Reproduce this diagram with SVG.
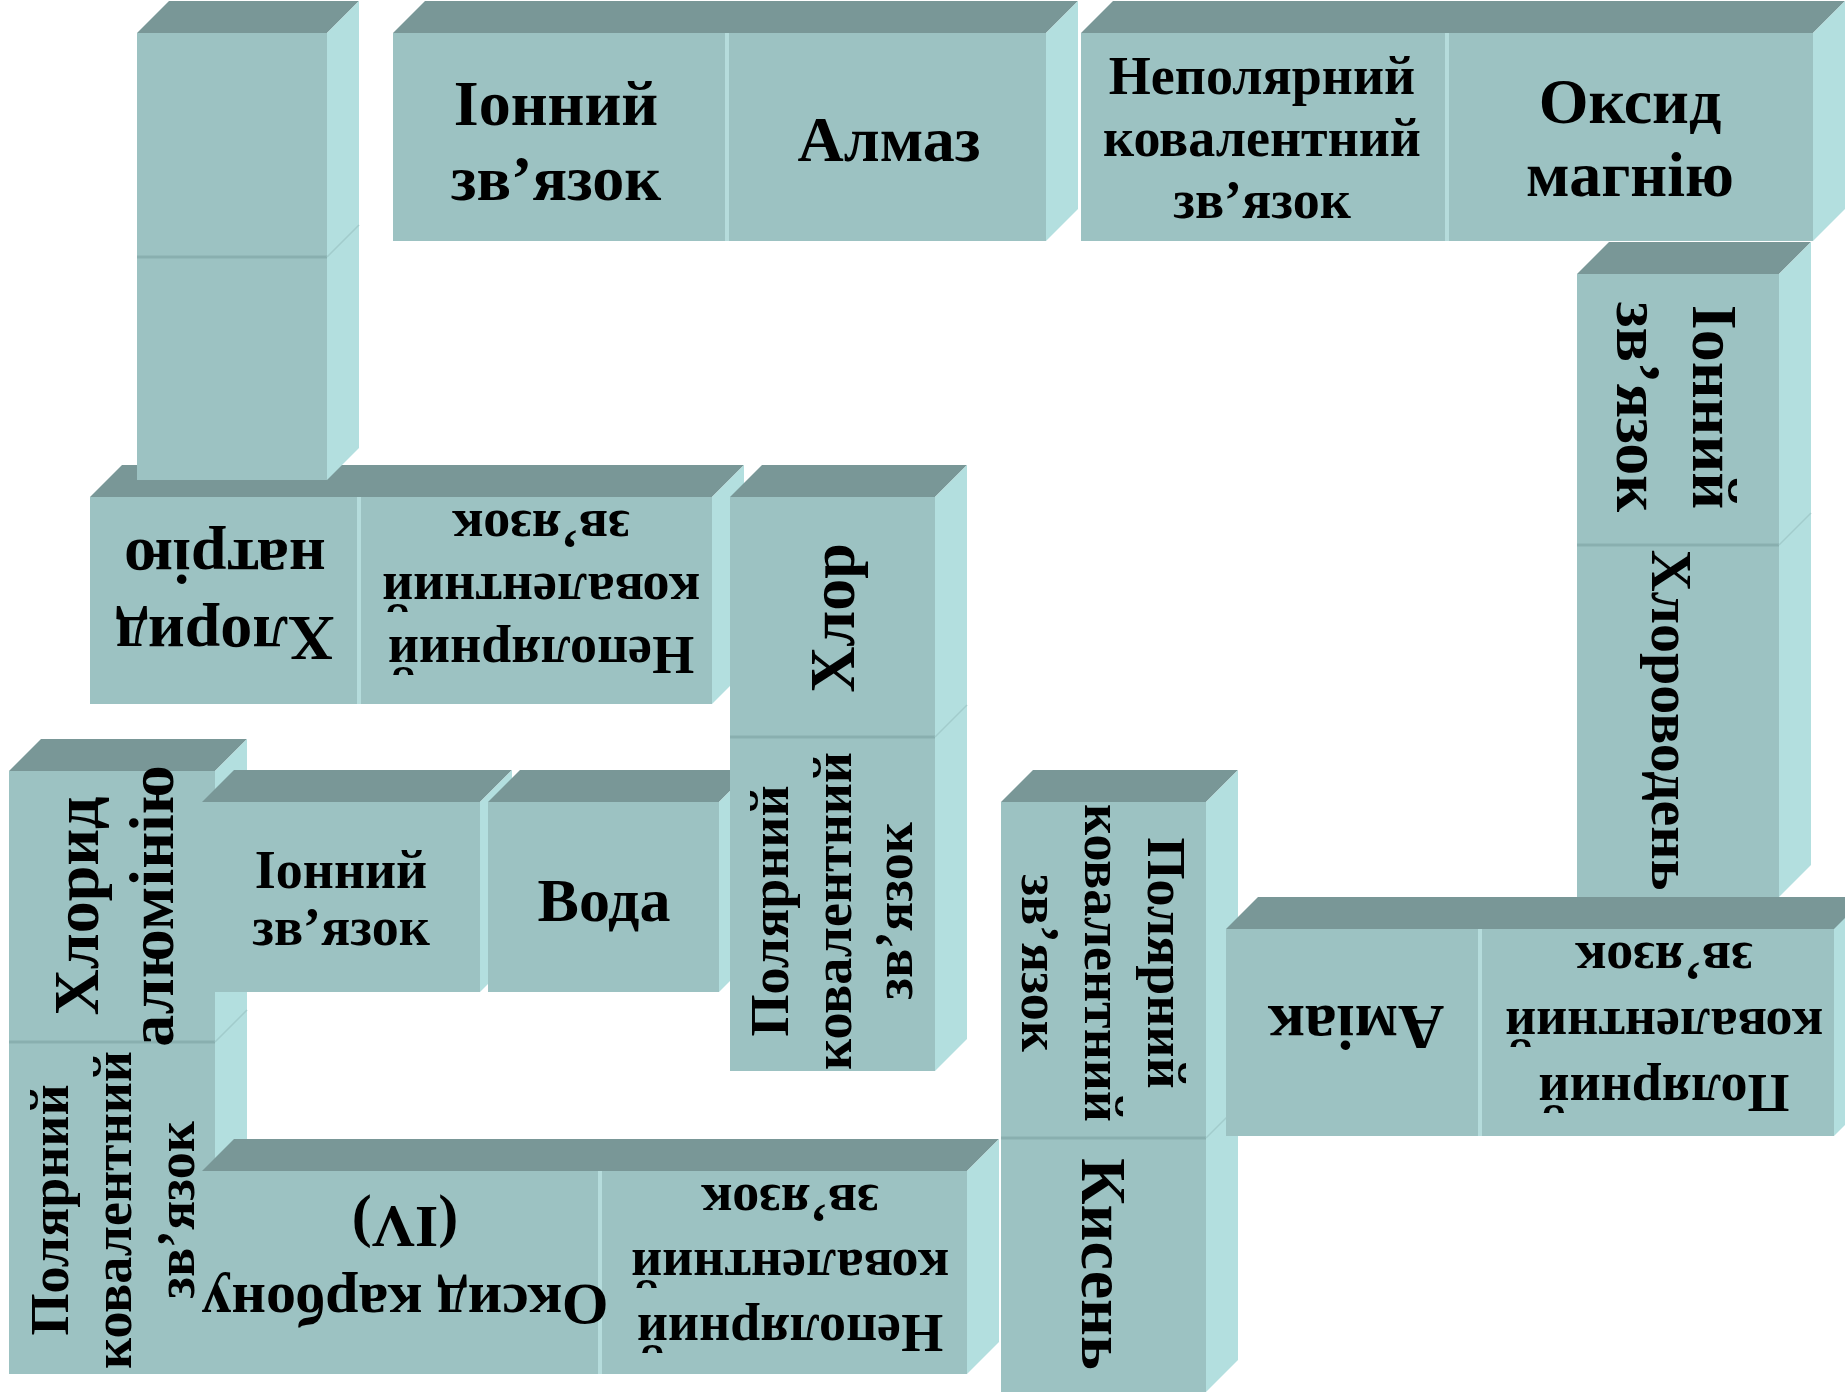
<svg xmlns="http://www.w3.org/2000/svg" width="1845" height="1397" viewBox="0 0 1845 1397">
<style>
.f{fill:#9CC2C2}
.tp{fill:#799797}
.sd{fill:#B3DFDF}
.dh{stroke:#89AFAF;stroke-width:3}
.dv{stroke:#B5DCDC;stroke-width:4}
.sm{stroke:#A2CCCC;stroke-width:1.5}
text{font-family:"Liberation Serif","Times New Roman",serif;font-weight:bold;fill:#000;text-anchor:middle}
.s54{font-size:54px}
.s58{font-size:58px}
.s60{font-size:60px}
.s62{font-size:62px}
.s64{font-size:64px}
</style>
<rect width="1845" height="1397" fill="#FFFFFF"/>
<g id="connectors"></g>

<g id="domino-A">
<polygon class="tp" points="393,33 425,1 1078,1 1046,33"/>
<polygon class="sd" points="1046,33 1078,1 1078,209 1046,241"/>
<rect class="f" x="393" y="33" width="653" height="208"/>
<line class="dv" x1="727" y1="33" x2="727" y2="241"/>
<text class="s64" x="556" y="125">Іонний</text>
<text class="s64" x="556" y="200">зв’язок</text>
<text class="s64" x="889" y="161">Алмаз</text>
</g>

<g id="domino-B">
<polygon class="tp" points="1081,33 1113,1 1845,1 1845,1 1813,33"/>
<polygon class="sd" points="1813,33 1845,1 1845,209 1813,241"/>
<rect class="f" x="1081" y="33" width="732" height="208"/>
<line class="dv" x1="1447" y1="33" x2="1447" y2="241"/>
<text class="s54" x="1262" y="94">Неполярний</text>
<text class="s54" x="1262" y="156">ковалентний</text>
<text class="s54" x="1262" y="218">зв’язок</text>
<text class="s64" x="1630" y="123">Оксид</text>
<text class="s64" x="1630" y="196">магнію</text>
</g>

<g id="domino-D">
<polygon class="tp" points="90,497 122,465 744,465 712,497"/>
<polygon class="sd" points="712,497 744,465 744,672 712,704"/>
<rect class="f" x="90" y="497" width="622" height="207"/>
<line class="dv" x1="359" y1="497" x2="359" y2="704"/>
<g transform="translate(225,597) rotate(180)">
<text class="s64" x="0" y="-20">Хлорид</text>
<text class="s64" x="0" y="57">натрію</text>
</g>
<g transform="translate(541,591) rotate(180)">
<text class="s54" x="0" y="-46">Неполярний</text>
<text class="s54" x="0" y="17">ковалентний</text>
<text class="s54" x="0" y="80">зв’язок</text>
</g>
</g>

<g id="domino-K">
<polygon class="tp" points="137,33 169,1 359,1 327,33"/>
<polygon class="sd" points="327,33 359,1 359,448 327,480"/>
<rect class="f" x="137" y="33" width="190" height="447"/>
<line class="dh" x1="137" y1="257" x2="327" y2="257"/>
<line class="sm" x1="327" y1="257" x2="359" y2="225"/>
</g>

<g id="domino-F">
<polygon class="tp" points="9,771 41,739 247,739 215,771"/>
<polygon class="sd" points="215,771 247,739 247,1342 215,1374"/>
<rect class="f" x="9" y="771" width="206" height="603"/>
<line class="dh" x1="9" y1="1042" x2="215" y2="1042"/>
<line class="sm" x1="215" y1="1042" x2="247" y2="1010"/>
<g transform="translate(112,906) rotate(-90)">
<text class="s64" x="0" y="-14">Хлорид</text>
<text class="s64" x="0" y="61">алюмінію</text>
</g>
<g transform="translate(116,1210) rotate(-90)">
<text class="s54" x="0" y="-48">Полярний</text>
<text class="s54" x="0" y="15">ковалентний</text>
<text class="s54" x="0" y="78">зв’язок</text>
</g>
</g>

<g id="domino-G1">
<polygon class="tp" points="202,802 234,770 512,770 480,802"/>
<polygon class="sd" points="480,802 512,770 512,960 480,992"/>
<rect class="f" x="202" y="802" width="278" height="190"/>
<text class="s54" x="341" y="888">Іонний</text>
<text class="s54" x="341" y="945">зв’язок</text>
</g>

<g id="domino-G2">
<polygon class="tp" points="488,802 520,770 751,770 719,802"/>
<polygon class="sd" points="719,802 751,770 751,960 719,992"/>
<rect class="f" x="488" y="802" width="231" height="190"/>
<text class="s62" x="604" y="921">Вода</text>
</g>

<g id="domino-E">
<polygon class="tp" points="730,497 762,465 967,465 935,497"/>
<polygon class="sd" points="935,497 967,465 967,1039 935,1071"/>
<rect class="f" x="730" y="497" width="205" height="574"/>
<line class="dh" x1="730" y1="737" x2="935" y2="737"/>
<line class="sm" x1="935" y1="737" x2="967" y2="705"/>
<g transform="translate(832,618) rotate(-90)">
<text class="s64" x="0" y="22">Хлор</text>
</g>
<g transform="translate(832,911) rotate(-90)">
<text class="s54" x="0" y="-44">Полярний</text>
<text class="s54" x="0" y="19">ковалентний</text>
<text class="s54" x="0" y="80">зв’язок</text>
</g>
</g>

<g id="domino-J">
<polygon class="tp" points="202,1171 234,1139 999,1139 967,1171"/>
<polygon class="sd" points="967,1171 999,1139 999,1342 967,1374"/>
<rect class="f" x="202" y="1171" width="765" height="203"/>
<line class="dv" x1="600" y1="1171" x2="600" y2="1374"/>
<g transform="translate(405,1265) rotate(180)">
<text class="s60" x="0" y="-20">Оксид карбону</text>
<text class="s60" x="0" y="58">(IV)</text>
</g>
<g transform="translate(790,1265) rotate(180)">
<text class="s54" x="0" y="-50">Неполярний</text>
<text class="s54" x="0" y="15">ковалентний</text>
<text class="s54" x="0" y="80">зв’язок</text>
</g>
</g>

<g id="domino-H">
<polygon class="tp" points="1001,802 1033,770 1238,770 1206,802"/>
<polygon class="sd" points="1206,802 1238,770 1238,1360 1206,1392"/>
<rect class="f" x="1001" y="802" width="205" height="590"/>
<line class="dh" x1="1001" y1="1138" x2="1206" y2="1138"/>
<line class="sm" x1="1206" y1="1138" x2="1238" y2="1106"/>
<g transform="translate(1102,963) rotate(90)">
<text class="s54" x="0" y="-46">Полярний</text>
<text class="s54" x="0" y="17">ковалентний</text>
<text class="s54" x="0" y="80">зв’язок</text>
</g>
<g transform="translate(1103,1264) rotate(90)">
<text class="s64" x="0" y="21">Кисень</text>
</g>
</g>

<g id="domino-I">
<polygon class="tp" points="1226,929 1258,897 1845,897 1845,929 1834,929"/>
<polygon class="sd" points="1834,929 1845,918 1845,1125 1834,1136"/>
<rect class="f" x="1226" y="929" width="608" height="207"/>
<line class="dv" x1="1480" y1="929" x2="1480" y2="1136"/>
<g transform="translate(1356,1027) rotate(180)">
<text class="s64" x="0" y="21">Аміак</text>
</g>
<g transform="translate(1664,1025) rotate(180)">
<text class="s54" x="0" y="-50">Полярний</text>
<text class="s54" x="0" y="16">ковалентний</text>
<text class="s54" x="0" y="82">зв’язок</text>
</g>
</g>

<g id="domino-C">
<polygon class="tp" points="1577,274 1609,242 1811,242 1779,274"/>
<polygon class="sd" points="1779,274 1811,242 1811,865 1779,897"/>
<rect class="f" x="1577" y="274" width="202" height="623"/>
<line class="dh" x1="1577" y1="545" x2="1779" y2="545"/>
<line class="sm" x1="1779" y1="545" x2="1811" y2="513"/>
<g transform="translate(1676,407) rotate(90)">
<text class="s64" x="0" y="-17">Іонний</text>
<text class="s64" x="0" y="59">зв’язок</text>
</g>
<g transform="translate(1671,720) rotate(90)">
<text class="s58" x="0" y="19">Хлороводень</text>
</g>
</g>
</svg>
